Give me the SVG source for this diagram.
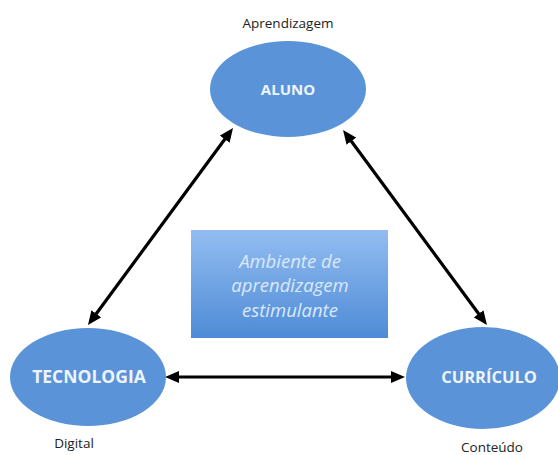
<svg xmlns="http://www.w3.org/2000/svg" width="558" height="455" viewBox="0 0 558 455">
<style>
.node{fill:#5b93d8;}
.nl{font-family:"Open Sans","Liberation Sans",sans-serif;font-weight:bold;font-size:16.5px;fill:#eef4fc;text-anchor:middle;}
.cap{font-family:"Open Sans","Liberation Sans",sans-serif;font-size:13.5px;fill:#222;text-anchor:middle;}
.bx{font-family:"Open Sans","Liberation Sans",sans-serif;font-style:italic;font-size:18.5px;fill:#dbe8fa;text-anchor:middle;}
.conn{stroke:#000;stroke-width:3.2;fill:none;marker-start:url(#ah);marker-end:url(#ah);}
</style>
<defs>
<marker id="ah" viewBox="0 0 14 12" markerWidth="14" markerHeight="12" refX="5" refY="6" orient="auto-start-reverse" markerUnits="userSpaceOnUse">
<path d="M0,0 L14,6 L0,12 z" fill="#000"/>
</marker>
<linearGradient id="bg" x1="0" y1="0" x2="0" y2="1">
<stop offset="0" stop-color="#93bdf1"/>
<stop offset="1" stop-color="#4e8bd6"/>
</linearGradient>
</defs>
<rect width="558" height="455" fill="#fff"/>
<g id="connectors">
<line class="conn" x1="227.7" y1="135.2" x2="93.3" y2="317.8"/>
<line class="conn" x1="348.4" y1="137.2" x2="481.6" y2="317.8"/>
<line class="conn" x1="174" y1="377" x2="396" y2="377"/>
</g>
<g id="aluno">
<ellipse class="node" cx="288" cy="89" rx="78" ry="48"/>
<text class="nl" x="288" y="95" style="font-size:15px">ALUNO</text>
<text class="cap" x="288" y="28">Aprendizagem</text>
</g>
<g id="tecnologia">
<ellipse class="node" cx="88" cy="377" rx="78" ry="49"/>
<text class="nl" x="89" y="383" style="font-size:17.5px">TECNOLOGIA</text>
<text class="cap" x="74" y="448">Digital</text>
</g>
<g id="curriculo">
<ellipse class="node" cx="483" cy="378" rx="77" ry="51"/>
<text class="nl" x="489" y="383">CURRÍCULO</text>
<text class="cap" x="492" y="452">Conteúdo</text>
</g>
<g id="ambiente">
<rect x="191" y="230" width="197" height="108" fill="url(#bg)"/>
<text class="bx" x="290" y="268">Ambiente de</text>
<text class="bx" x="290" y="292">aprendizagem</text>
<text class="bx" x="290" y="317">estimulante</text>
</g>
</svg>
